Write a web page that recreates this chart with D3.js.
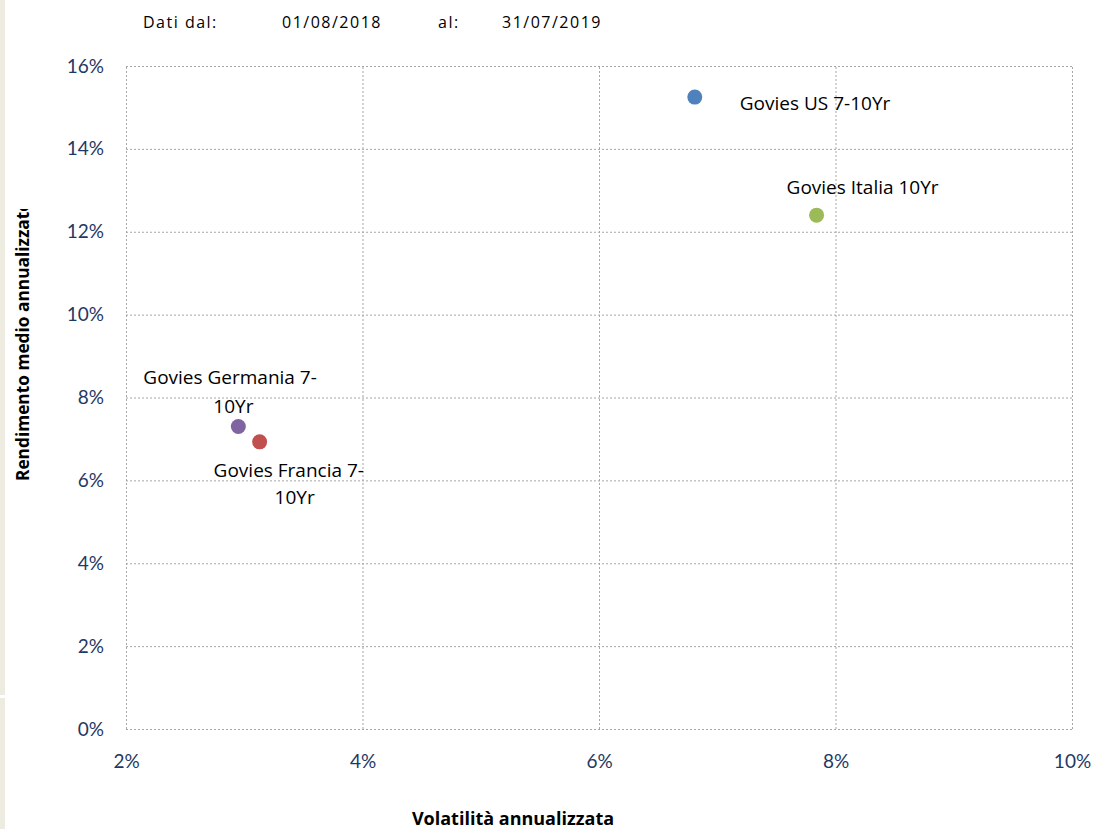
<!DOCTYPE html>
<html lang="it">
<head>
<meta charset="UTF-8">
<title>Rischio / rendimento</title>
<script src="https://d3js.org/d3.v7.min.js"></script>
<style>
    body { margin: 0; background: #fff; }
    svg { display: block; }
    .tick text { fill: #1f3864; font-size: 19px; font-family: Lato, "Open Sans", sans-serif; }
    .grid line, .frame { stroke: #a6a6a6; stroke-width: 1; stroke-dasharray: 2,2; fill: none; }
    .lbl { font-family: "Open Sans", Lato, sans-serif; font-size: 19px; fill: #000; }
    .title { font-family: "Open Sans", sans-serif; font-size: 18px; font-weight: bold; fill: #000; }
    .hdr { font-family: "Open Sans", sans-serif; font-size: 16px; fill: #000; }
</style>
</head>
<body>
<svg id="chart"></svg>
<script>
    const width = 1097;
    const height = 829;

    // dati
    const names = ["Govies US 7-10Yr", "Govies Italia 10Yr", "Govies Germania 7-10Yr", "Govies Francia 7-10Yr"];
    const volatility = [6.81, 7.84, 2.95, 3.13];
    const returns = [15.25, 12.40, 7.30, 6.93];
    const colors = ["#4f81bd", "#9bbb59", "#8064a2", "#c0504d"];
    // etichette (righe, a capo come nell'originale)
    const labelLines = [["Govies US 7-10Yr"], ["Govies Italia 10Yr"], ["Govies Germania 7-", "10Yr"], ["Govies Francia 7-", "10Yr"]];
    const xTicks = [2, 4, 6, 8, 10];
    const yTicks = [0, 2, 4, 6, 8, 10, 12, 14, 16];
    const header = [["Dati dal:", 143], ["01/08/2018", 282], ["al:", 438], ["31/07/2019", 502]];

    const margin = {left: 126, right: 25, top: 66, bottom: 100};

    const svg = d3.select("#chart").attr("width", width).attr("height", height);

    // striscia beige a sinistra
    svg.append("rect").attr("x", 0).attr("y", 0).attr("width", 5).attr("height", 695).attr("fill", "#eeebe0");
    svg.append("rect").attr("x", 0).attr("y", 698).attr("width", 5).attr("height", 131).attr("fill", "#eeebe0");

    const x = d3.scaleLinear().domain([2, 10]).range([margin.left, width - margin.right]);
    const y = d3.scaleLinear().domain([0, 16]).range([height - margin.bottom, margin.top]);

    // griglia
    svg.append("g").attr("class", "grid")
        .selectAll("line.h").data(yTicks).join("line")
        .attr("x1", x(2)).attr("x2", x(10))
        .attr("y1", d => y(d) + 0.5).attr("y2", d => y(d) + 0.5);
    svg.append("g").attr("class", "grid")
        .selectAll("line.v").data(xTicks).join("line")
        .attr("y1", y(0)).attr("y2", y(16))
        .attr("x1", d => x(d) + 0.5).attr("x2", d => x(d) + 0.5);

    // assi
    const yAxis = svg.append("g")
        .attr("transform", `translate(${margin.left - 22},0)`)
        .call(d3.axisLeft(y).tickValues(yTicks).tickFormat(d => d + "%").tickSize(0).tickPadding(0));
    yAxis.select(".domain").remove();

    const xAxis = svg.append("g")
        .attr("transform", `translate(0,${y(0) + 25})`)
        .call(d3.axisBottom(x).tickValues(xTicks).tickFormat(d => d + "%").tickSize(0).tickPadding(0));
    xAxis.select(".domain").remove();
    xAxis.selectAll("text").attr("dy", "0.71em");

    // punti
    svg.append("g").selectAll("circle")
        .data(names)
        .join("circle")
        .attr("cx", (d, i) => x(volatility[i]))
        .attr("cy", (d, i) => y(returns[i]))
        .attr("r", 7.5)
        .attr("fill", (d, i) => colors[i]);

    // posizioni delle etichette rispetto al punto (in pixel)
    const labelOffsets = [
        [[45, 13]],
        [[-30, -21]],
        [[-95, -43], [-25, -14]],
        [[-46, 35], [15, 62]]
    ];
    labelLines.forEach((lines, i) => {
        lines.forEach((t, j) => {
            svg.append("text").attr("class", "lbl")
                .attr("x", x(volatility[i]) + labelOffsets[i][j][0])
                .attr("y", y(returns[i]) + labelOffsets[i][j][1])
                .text(t);
        });
    });

    // titoli assi
    svg.append("text").attr("class", "title")
        .attr("x", 513).attr("y", 825)
        .attr("text-anchor", "middle")
        .text("Volatilità annualizzata");

    svg.append("clipPath").attr("id", "yclip")
        .append("rect").attr("x", 0).attr("y", 209).attr("width", 60).attr("height", 400);
    svg.append("g").attr("clip-path", "url(#yclip)")
        .append("text").attr("class", "title")
        .style("font-size", "17.3px")
        .attr("transform", "translate(29,481) rotate(-90)")
        .attr("text-anchor", "start")
        .text("Rendimento medio annualizzato");

    // intestazione
    svg.selectAll("text.hdr").data(header).join("text")
        .attr("class", "hdr")
        .attr("x", d => d[1]).attr("y", 28)
        .attr("letter-spacing", "1.5px")
        .text(d => d[0]);
</script>
</body>
</html>
